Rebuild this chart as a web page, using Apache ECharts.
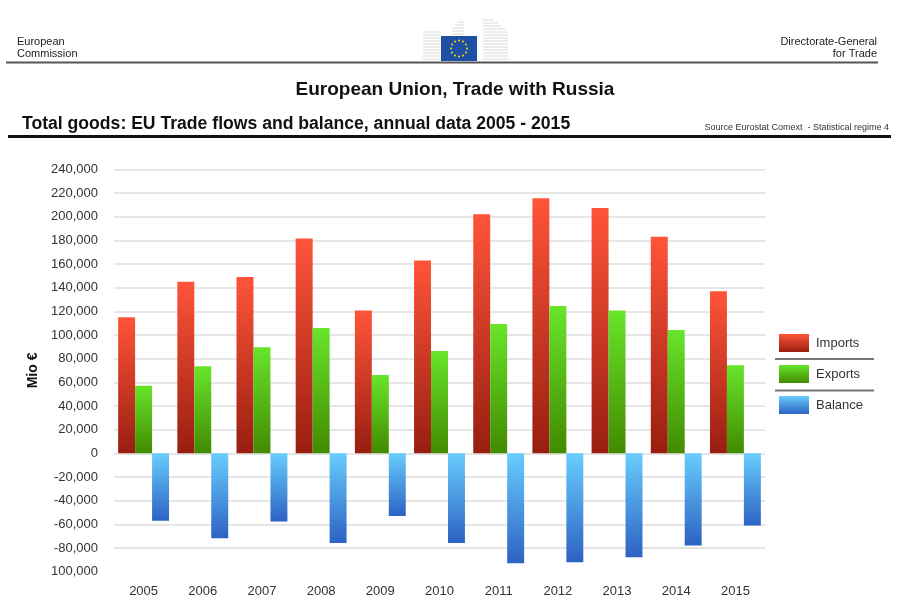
<!DOCTYPE html>
<html>
<head>
<meta charset="utf-8">
<script src="https://cdn.jsdelivr.net/npm/echarts@6/dist/echarts.min.js"></script>
<style>
html,body{margin:0;padding:0;background:#fff;}
#chart{width:917px;height:603px;}
</style>
</head>
<body>
<div id="chart"></div>
<script>
const years = ['2005','2006','2007','2008','2009','2010','2011','2012','2013','2014','2015'];
const imports = [115000, 145000, 149000, 181500, 120600, 163000, 202000, 215500, 207300, 183100, 137000];
const exports_ = [57000, 73500, 89600, 105900, 66200, 86500, 109300, 124500, 120600, 104200, 74400];
const balance = [-57000, -71800, -57700, -75800, -53000, -75800, -93000, -92100, -87900, -78000, -61100];
const tickLabels = ['100,000','-80,000','-60,000','-40,000','-20,000','0','20,000','40,000','60,000','80,000','100,000','120,000','140,000','160,000','180,000','200,000','220,000','240,000'];
const yMin = -100000, yMax = 240000, yStep = 20000;

const FONT = '"Liberation Sans", Arial, sans-serif';
const grad = (top, bottom) => new echarts.graphic.LinearGradient(0, 0, 0, 1, [{offset:0,color:top},{offset:1,color:bottom}]);

const chart = echarts.init(document.getElementById('chart'), null, {renderer:'canvas'});

// logo stripes
const logo = [];
for (let i = 0; i < 10; i++) {
  const y = 32 + i * 3;
  logo.push({type:'line', shape:{x1:423, y1:y, x2:441, y2:y}, style:{stroke:'#d8d8d8', lineWidth:1}});
}
for (let i = 0; i < 13; i++) {
  const y = 22 + i * 3;
  logo.push({type:'line', shape:{x1:452 + Math.max(0,(28-y)), y1:y, x2:464, y2:y}, style:{stroke:'#d8d8d8', lineWidth:1}});
}
for (let i = 0; i < 14; i++) {
  const y = 20 + i * 3;
  const x2 = 483 + Math.min(25, (y - 18) * 1.3);
  logo.push({type:'line', shape:{x1:483, y1:y, x2: Math.min(508, x2 + 8), y2:y}, style:{stroke:'#d8d8d8', lineWidth:1}});
}
const stars = [];
for (let k = 0; k < 12; k++) {
  const a = k * Math.PI / 6;
  stars.push({type:'circle', shape:{cx:459 + 8 * Math.cos(a), cy:48.5 + 8 * Math.sin(a), r:1}, style:{fill:'#ffdd00'}});
}

const option = {
  backgroundColor:'#fff',
  animation:false,
  textStyle:{fontFamily:FONT},
  grid:{left:114, right:152, top:169.3, bottom:31.4, containLabel:false},
  legend:{
    orient:'vertical', left:779, top:334, padding:0, itemWidth:30, itemHeight:18, itemGap:13,
    icon:'rect',
    textStyle:{fontFamily:FONT, fontSize:13, color:'#333', padding:[0,0,0,2]},
    data:['Imports','Exports','Balance']
  },
  xAxis:{
    type:'category', data:years,
    axisLine:{show:false}, axisTick:{show:false},
    axisLabel:{fontFamily:FONT, fontSize:13, color:'#333', margin:13}
  },
  yAxis:{
    type:'value', min:yMin, max:yMax, interval:yStep,
    name:'Mio €', nameLocation:'middle', nameGap:74, nameRotate:90,
    nameTextStyle:{fontFamily:FONT, fontSize:14, fontWeight:'bold', color:'#111'},
    axisLine:{show:false}, axisTick:{show:false},
    axisLabel:{fontFamily:FONT, fontSize:13, color:'#333', margin:16,
      formatter:(v)=>tickLabels[Math.round((v - yMin)/yStep)]},
    splitLine:{show:true, showMinLine:false, lineStyle:{color:'#dedede', width:1.5}}
  },
  series:[
    {name:'Imports', type:'bar', data:imports, barGap:'0%', barCategoryGap:'14%',
     itemStyle:{color:grad('#ff5439','#981e10')}},
    {name:'Exports', type:'bar', data:exports_, barGap:'0%', barCategoryGap:'14%',
     itemStyle:{color:grad('#68e52b','#428a00')}},
    {name:'Balance', type:'bar', data:balance, barGap:'0%', barCategoryGap:'14%',
     itemStyle:{color:grad('#68cdfd','#2d62c3')}}
  ],
  graphic:[
    {type:'text', x:17, y:36, style:{text:'European\nCommission', font:'11px '+FONT, fill:'#222', lineHeight:12}},
    {type:'text', x:877, y:36, style:{text:'Directorate-General\nfor Trade', font:'11px '+FONT, fill:'#222', lineHeight:12, align:'right'}},
    {type:'group', children: logo.concat([
      {type:'rect', shape:{x:441, y:36, width:36, height:25}, style:{fill:'#1f4fa3'}}
    ]).concat(stars)},
    {type:'line', shape:{x1:6, y1:62.5, x2:878, y2:62.5}, style:{stroke:'#555', lineWidth:2}},
    {type:'text', x:455, y:90, style:{text:'European Union, Trade with Russia', font:'bold 19px '+FONT, fill:'#111', align:'center', verticalAlign:'middle'}},
    {type:'text', x:22, y:124, style:{text:'Total goods: EU Trade flows and balance, annual data 2005 - 2015', font:'bold 17.6px '+FONT, fill:'#111', verticalAlign:'middle'}},
    {type:'text', x:889, y:128, style:{text:'Source Eurostat Comext  - Statistical regime 4', font:'9px '+FONT, fill:'#333', align:'right', verticalAlign:'middle'}},
    {type:'line', shape:{x1:8, y1:136.5, x2:891, y2:136.5}, style:{stroke:'#111', lineWidth:3}},
    {type:'line', shape:{x1:775, y1:359, x2:874, y2:359}, style:{stroke:'#777', lineWidth:2}},
    {type:'line', shape:{x1:775, y1:390.5, x2:874, y2:390.5}, style:{stroke:'#777', lineWidth:2}}
  ]
};
chart.setOption(option);
</script>
</body>
</html>
